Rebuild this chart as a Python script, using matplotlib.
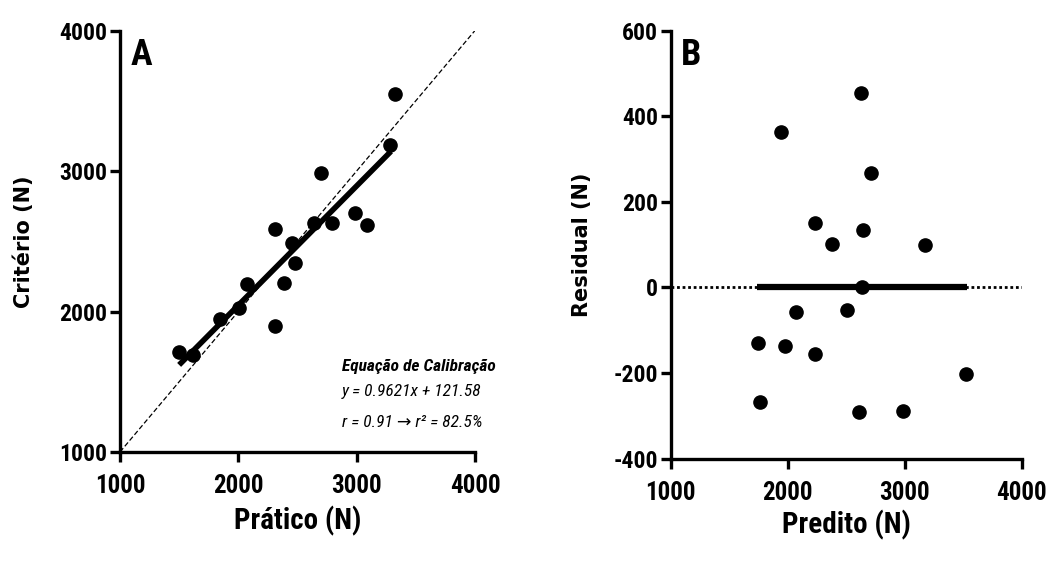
import matplotlib
matplotlib.use('Agg')
import matplotlib.pyplot as plt
import numpy as np

# Painel A: pratico x criterio
pratico = [1499, 1614, 1845, 2006, 2076, 2310, 2310, 2389, 2456, 2482,
           2640, 2699, 2789, 2986, 3085, 3282, 3324]
criterio = [1714, 1691, 1945, 2024, 2198, 2590, 1896, 2203, 2490, 2347,
            2631, 2987, 2631, 2702, 2613, 3186, 3547]
reta_x = [1500, 3290]
reta_y = [1620, 3140]
ident = [1000, 4000]

# Painel B: predito x residual
predito = [2624, 1943, 2712, 2237, 2376, 2647, 3174, 2638, 2068, 2507,
           1744, 1980, 2231, 1764, 2613, 2986, 3524]
residual = [455, 363, 268, 150, 102, 134, 100, 0, -57, -53,
            -131, -137, -156, -267, -291, -289, -203]
media_x = [1741, 3530]
zero_x = [1000, 4000]

ticks_x = [1000, 2000, 3000, 4000]
ticks_yA = [1000, 2000, 3000, 4000]
ticks_yB = [-400, -200, 0, 200, 400, 600]

narrow = ['Roboto Condensed', 'DejaVu Sans']
wide = ['DejaVu Sans']
plt.rcParams['font.family'] = narrow
plt.rcParams['axes.unicode_minus'] = False

fig = plt.figure(figsize=(10.56, 5.62), dpi=100)
axA = fig.add_axes([0.1136, 0.1957, 0.3362, 0.750])
axB = fig.add_axes([0.6351, 0.1840, 0.3324, 0.7616])


def estilo(ax):
    for s in ['top', 'right']:
        ax.spines[s].set_visible(False)
    for s in ['left', 'bottom']:
        ax.spines[s].set_linewidth(2.4)
    ax.tick_params(width=2.4, length=7, pad=2)
    ax.tick_params(axis='y', labelsize=17)
    ax.tick_params(axis='x', labelsize=18, pad=9)
    for lab in ax.get_xticklabels() + ax.get_yticklabels():
        lab.set_fontweight(800)


# A
axA.plot(ident, ident, color='black', lw=0.9, ls=(0, (4, 2)), zorder=1)
axA.plot(reta_x, reta_y, color='black', lw=4, solid_capstyle='butt', zorder=2)
axA.plot(pratico, criterio, 'o', color='black', ms=9.5, zorder=3)
axA.set_xlim(1000, 4000)
axA.set_ylim(1000, 4000)
axA.set_xticks(ticks_x)
axA.set_yticks(ticks_yA)
estilo(axA)
axA.set_xlabel('Prático (N)', fontsize=21, fontweight='bold', va='center')
axA.xaxis.set_label_coords(0.5, -0.163)
axA.set_ylabel('Critério (N)', fontsize=15, fontweight='bold', family=wide, va='center')
axA.yaxis.set_label_coords(-0.27, 0.5)
axA.text(0.03, 0.985, 'A', transform=axA.transAxes, fontsize=26, fontweight='bold',
         va='top', ha='left')
axA.text(0.625, 0.204, 'Equação de Calibração', transform=axA.transAxes, fontsize=12.5,
         fontweight='bold', style='italic', va='center')
axA.text(0.625, 0.144, 'y = 0.9621x + 121.58', transform=axA.transAxes, fontsize=12.5,
         style='italic', va='center')
axA.text(0.625, 0.07, 'r = 0.91 → r² = 82.5%', transform=axA.transAxes, fontsize=12.5,
         style='italic', va='center')

# B
axB.plot(zero_x, [0, 0], color='black', lw=2, ls=(0, (1, 1)), zorder=1)
axB.plot(media_x, [0, 0], color='black', lw=4.5, solid_capstyle='butt', zorder=2)
axB.plot(predito, residual, 'o', color='black', ms=9.5, zorder=3)
axB.set_xlim(1000, 4000)
axB.set_ylim(-400, 600)
axB.set_xticks(ticks_x)
axB.set_yticks(ticks_yB)
estilo(axB)
axB.set_xlabel('Predito (N)', fontsize=21, fontweight='bold', va='center')
axB.xaxis.set_label_coords(0.5, -0.155)
axB.set_ylabel('Residual (N)', fontsize=15, fontweight='bold', family=wide, va='center')
axB.yaxis.set_label_coords(-0.253, 0.5)
axB.text(0.03, 0.985, 'B', transform=axB.transAxes, fontsize=26, fontweight='bold',
         va='top', ha='left')

fig.savefig('out.png', dpi=100)
